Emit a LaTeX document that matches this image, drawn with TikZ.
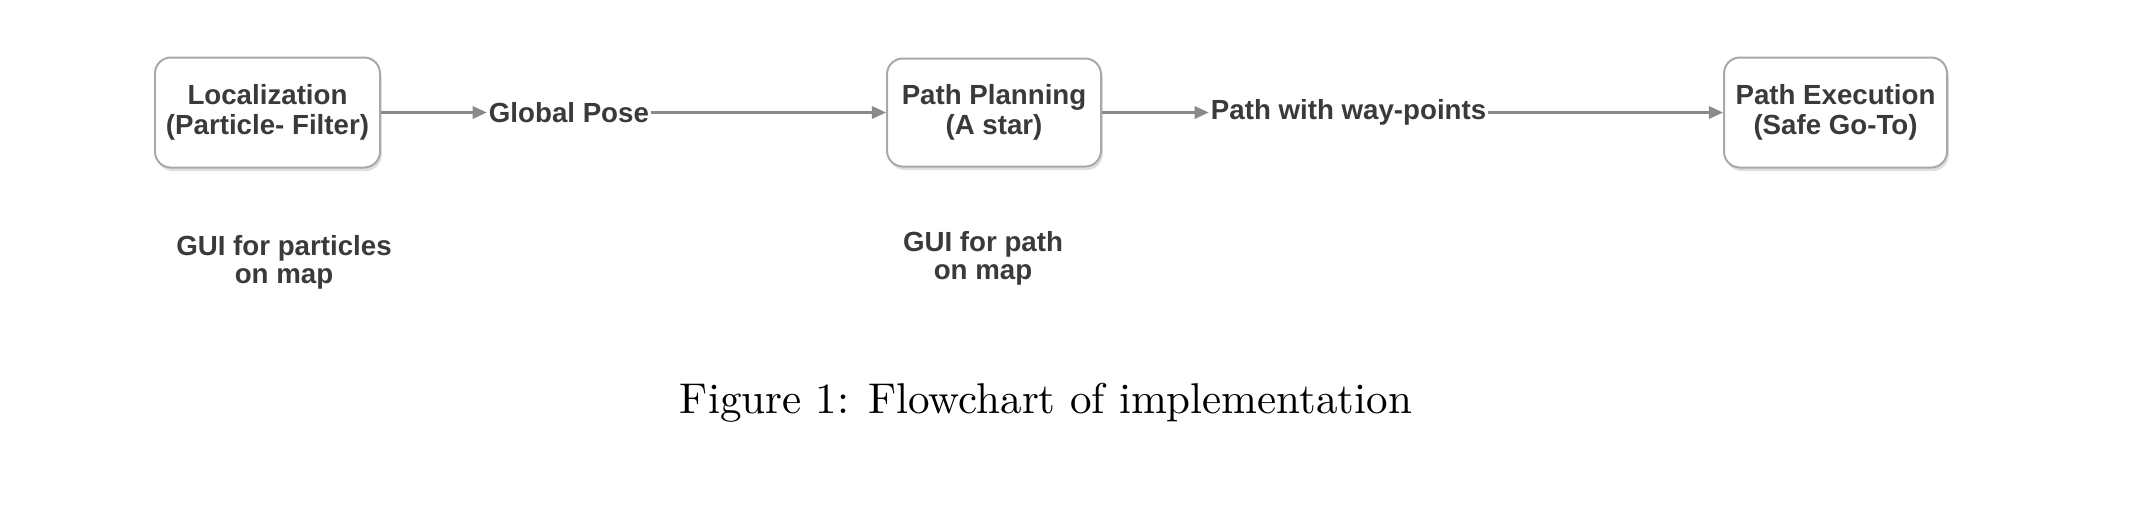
\documentclass[tikz,border=0pt]{standalone}
\usepackage{fontspec}
\usetikzlibrary{arrows.meta,shadows}
\newfontfamily\chartfont{Liberation Sans}
\definecolor{chartgray}{HTML}{3A3A3A}
\definecolor{boxline}{HTML}{A8A8A8}
\definecolor{flowline}{HTML}{8A8A8A}

\begin{document}
\begin{tikzpicture}[
    stage/.style={draw=boxline, line width=0.45pt, fill=white, rounded corners=3.6pt,
        minimum width=#1, minimum height=0.88cm, align=center, inner sep=0pt,
        text=chartgray, font=\chartfont\bfseries\fontsize{6.3}{6.9}\selectfont,
        drop shadow={opacity=0.25, shadow xshift=0.4pt, shadow yshift=-0.8pt}},
    flowlabel/.style={inner sep=0.3pt, text=chartgray,
        font=\chartfont\bfseries\fontsize{6.3}{6.7}\selectfont},
    guilabel/.style={align=center, inner sep=0pt, text=chartgray,
        font=\chartfont\bfseries\fontsize{6.3}{6.4}\selectfont},
    flow/.style={draw=flowline, line width=0.55pt,
        -{Triangle[length=3.2pt, width=2.8pt]}}
]
    \useasboundingbox (0,0) rectangle (17.12,-4.072);

    % Stages
    \node[stage=1.80cm] (loc) at (2.14,-0.90) {Localization\\(Particle- Filter)};
    \node[stage=1.712cm, minimum height=0.864cm] (plan) at (7.952,-0.90) {Path Planning\\(A star)};
    \node[stage=1.784cm] (exec) at (14.684,-0.90) {Path Execution\\(Safe Go-To)};

    % Labels on the flow
    \node[flowlabel, anchor=west] (pose) at (3.894,-0.90) {Global Pose};
    \node[flowlabel, anchor=west] (ways) at (9.67,-0.90) {Path with way-points};

    \draw[flow] (loc) -- (pose);
    \draw[flow] (pose) -- (plan);
    \draw[flow] (plan) -- (ways);
    \draw[flow] (ways) -- (exec);

    % GUI notes
    \node[guilabel] (guiloc) at (2.272,-2.10) {GUI for particles\\on map};
    \node[guilabel] (guiplan) at (7.864,-2.07) {GUI for path\\on map};

    % Caption
    \node[anchor=base, inner sep=0pt, font=\fontsize{9.8}{12}\selectfont] (caption) at (8.368,-3.304) {Figure 1: Flowchart of implementation};

\end{tikzpicture}
\end{document}
